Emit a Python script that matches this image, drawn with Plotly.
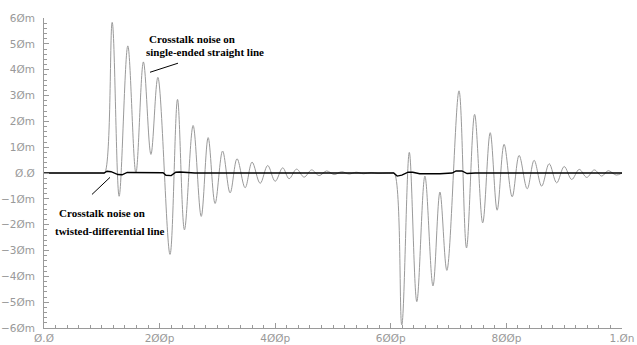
import plotly.graph_objects as go

# ---- data (time in ps, voltage in mV) ----
se_time = [0, 50, 100, 105, 118, 130, 145, 159, 172, 185, 197, 218, 231, 243, 258, 272, 284, 296,
           309, 322, 334, 348, 360, 374, 387, 400, 413, 424, 437, 450, 463, 476, 489, 502,
           515, 528, 540, 553, 566, 578, 592, 600, 606, 619, 632, 645, 659, 673, 685, 697, 718, 731,
           745, 759, 772, 784, 796, 810, 822, 836, 848, 861, 874, 887, 900, 913, 926, 939,
           952, 965, 976, 990, 1000]
se_volt = [0, 0, 0, 0, 58.3, -9.0, 49.2, 0.0, 43.0, 7.2, 37.0, -31.5, 28.5, -22.0, 18.4, -16.8, 13.7, -11.8,
           8.5, -7.7, 5.5, -5.7, 4.2, -4.0, 2.9, -3.2, 2.0, -2.2, 1.5, -1.6, 1.2, -1.0, 0.8, -0.6,
           0.5, -0.4, 0.3, -0.3, 0.2, -0.2, 0, 0, 0, -58.8, 8.0, -49.8, -1.2, -43.7, -7.4, -37.7, 31.8, -29.0,
           22.7, -19.3, 15.6, -14.4, 11.1, -9.2, 6.8, -6.1, 4.9, -5.1, 3.6, -3.8, 2.5, -2.5, 1.4, -1.7,
           1.2, -1.2, 0.9, -0.8, 0]

td_time = [0, 104, 109, 116, 128, 135, 144, 183, 206, 211, 220, 228, 235, 261, 605, 611, 619,
           630, 638, 650, 685, 706, 713, 723, 732, 746, 1000]
td_volt = [0, 0, 0.7, 0.5, -0.6, -0.7, 0.2, 0.2, 0.1, -0.9, -1.0, 0.3, 0.4, 0, 0, -1.2, -0.8,
           0.3, 0.3, -0.3, -0.3, 0, 0.8, 0.8, -0.2, 0, 0]

x_ticks = [0, 200, 400, 600, 800, 1000]
x_labels = ["Ø.Ø", "2ØØp", "4ØØp", "6ØØp", "8ØØp", "1.Øn"]
y_ticks = [-60, -50, -40, -30, -20, -10, 0, 10, 20, 30, 40, 50, 60]
y_labels = ["−6Øm", "−5Øm", "−4Øm", "−3Øm", "−2Øm", "−1Øm", "Ø.Ø",
            "1Øm", "2Øm", "3Øm", "4Øm", "5Øm", "6Øm"]

fig = go.Figure()
fig.add_trace(go.Scatter(x=se_time, y=se_volt, mode="lines",
                         line=dict(color="#9a9a9a", width=1, shape="spline", smoothing=1.0),
                         name="single-ended", showlegend=False, hoverinfo="skip"))
fig.add_trace(go.Scatter(x=td_time, y=td_volt, mode="lines",
                         line=dict(color="#000000", width=1.4),
                         name="twisted-differential", showlegend=False, hoverinfo="skip"))

axis_col = "#9a9a9a"
tick_font = dict(family="DejaVu Sans", size=10.5, color="#999999")
fig.update_xaxes(range=[0, 1000], tickmode="array", tickvals=x_ticks, ticktext=x_labels,
                 showgrid=False, zeroline=False, showline=True, linecolor=axis_col, linewidth=1,
                 ticks="inside", ticklen=5, tickcolor=axis_col, tickfont=tick_font,
                 ticklabelstandoff=0, automargin=False,
                 minor=dict(ticks="inside", ticklen=3, tickcolor=axis_col, tick0=0, dtick=20))
fig.update_yaxes(range=[-60, 60], tickmode="array", tickvals=y_ticks, ticktext=y_labels,
                 showgrid=False, zeroline=False, showline=True, linecolor=axis_col, linewidth=1,
                 ticks="inside", ticklen=5, tickcolor=axis_col, tickfont=tick_font,
                 ticklabelstandoff=6, automargin=False,
                 minor=dict(ticks="inside", ticklen=3, tickcolor=axis_col, tick0=0, dtick=2))

ann_font = dict(family="Liberation Serif", size=11, color="#000000")
annots = [
    (178, 51.8, "Crosstalk noise on"),
    (173, 46.8, "single-ended straight line"),
    (22, -15.5, "Crosstalk noise on"),
    (15.5, -22.3, "twisted-differential line"),
]
for ax_, ay_, txt in annots:
    fig.add_annotation(x=ax_, y=ay_, text="<b>" + txt + "</b>", showarrow=False,
                       xanchor="left", yanchor="middle", font=ann_font)

fig.add_shape(type="line", x0=183.4, y0=39.0, x1=231.8, y1=42.5,
              line=dict(color="#000000", width=1))
fig.add_shape(type="line", x0=83.0, y0=-8.3, x1=114.2, y1=-1.7,
              line=dict(color="#000000", width=1))

fig.update_layout(width=637, height=345, margin=dict(l=44, r=15, t=18, b=17, autoexpand=False),
                  plot_bgcolor="white", paper_bgcolor="white")

fig.write_html("out.html", config={"displayModeBar": False},
               post_script="document.body.style.margin='0px';")
